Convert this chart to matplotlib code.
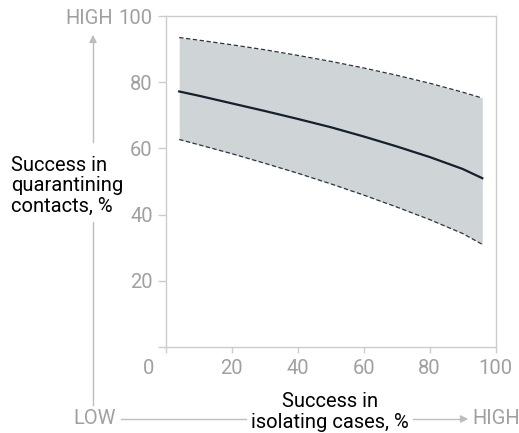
import numpy as np
import matplotlib.pyplot as plt
from matplotlib.lines import Line2D

# values
isolating = [4, 10, 20, 30, 40, 50, 60, 70, 80, 90, 96]
quarantine_mid = [77.2, 75.9, 73.6, 71.3, 68.9, 66.4, 63.6, 60.6, 57.4, 53.8, 51.0]
quarantine_high = [93.5, 92.7, 91.3, 89.8, 88.1, 86.3, 84.3, 82.1, 79.7, 77.0, 75.2]
quarantine_low = [62.7, 61.1, 58.4, 55.5, 52.5, 49.3, 45.9, 42.3, 38.5, 34.3, 31.0]
ticks = [0, 20, 40, 60, 80, 100]

W, H = 519, 433
grey_line = '#bdbdbd'
grey_text = '#a0a0a0'
spine_c = '#cccccc'
tick_size = 14.5

plt.rcParams['font.family'] = ['Roboto', 'DejaVu Sans']

fig = plt.figure(figsize=(W / 100, H / 100), dpi=100)
ax = fig.add_axes([166 / W, 1 - 347 / H, 329.5 / W, 331 / H])


def px(x, y):
    # pixel position -> figure fraction
    return x / W, 1 - y / H


ax.fill_between(isolating, quarantine_low, quarantine_high, color='#cfd4d7', lw=0)
ax.plot(isolating, quarantine_high, color='#2b3340', lw=0.9, ls=(0, (3.5, 2)))
ax.plot(isolating, quarantine_low, color='#2b3340', lw=0.9, ls=(0, (3.5, 2)))
ax.plot(isolating, quarantine_mid, color='#14202e', lw=1.6)

ax.set_xlim(0, 100)
ax.set_ylim(0, 100)
ax.set_xticks(ticks)
ax.set_xticklabels([''] + [str(t) for t in ticks[1:]])
ax.set_yticks(ticks)
ax.set_yticklabels([''] + [str(t) for t in ticks[1:]])
for s in ax.spines.values():
    s.set_color(spine_c)
    s.set_linewidth(1)
ax.tick_params(axis='y', length=5.5, width=1, color=spine_c, pad=4,
               labelsize=tick_size, labelcolor=grey_text)
ax.tick_params(axis='x', length=4, width=1, color=spine_c, pad=5,
               labelsize=tick_size, labelcolor=grey_text)

# shared origin label
fig.text(*px(149, 368), '0', ha='center', va='center', fontsize=tick_size,
         color=grey_text)

# y axis title and arrow
fig.text(*px(11, 186), 'Success in\nquarantining\ncontacts, %', ha='left',
         va='center', fontsize=14.5, linespacing=1.1, color='black')
fig.add_artist(Line2D(*zip(px(93, 405), px(93, 222)), color=grey_line, lw=1))
fig.add_artist(Line2D(*zip(px(93, 142), px(93, 40)), color=grey_line, lw=1))
ax.annotate('', xy=px(93, 32), xytext=px(93, 44), xycoords='figure fraction',
            arrowprops=dict(arrowstyle='-|>', color=grey_line, lw=1,
                            mutation_scale=11))
fig.text(*px(113, 18), 'HIGH', ha='right', va='center', fontsize=tick_size,
         color=grey_text)

# x axis title and arrow
fig.text(*px(330, 412), 'Success in\nisolating cases, %', ha='center',
         va='center', fontsize=14.5, linespacing=1.1, color='black')
fig.text(*px(95, 419), 'LOW', ha='center', va='center', fontsize=tick_size,
         color=grey_text)
fig.add_artist(Line2D(*zip(px(121, 419), px(246, 419)), color=grey_line, lw=1))
fig.add_artist(Line2D(*zip(px(413, 419), px(462, 419)), color=grey_line, lw=1))
ax.annotate('', xy=px(471, 419), xytext=px(459, 419), xycoords='figure fraction',
            arrowprops=dict(arrowstyle='-|>', color=grey_line, lw=1,
                            mutation_scale=11))
fig.text(*px(472, 419), 'HIGH', ha='left', va='center', fontsize=tick_size,
         color=grey_text)

fig.savefig('out.png', dpi=100)
